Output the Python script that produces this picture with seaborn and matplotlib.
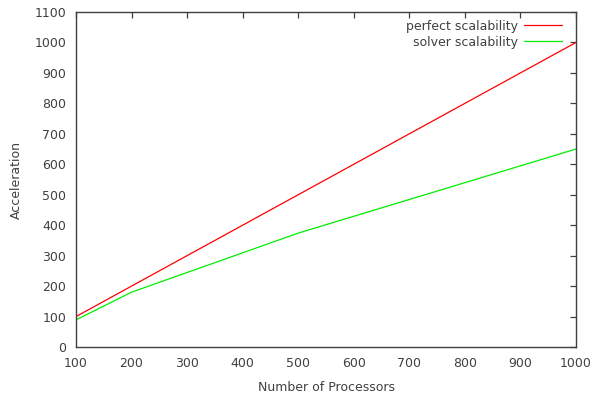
import pandas as pd
import matplotlib
matplotlib.use("Agg")
import matplotlib.pyplot as plt
import seaborn as sns

# processors vs acceleration
processors = [100, 200, 500, 1000]
perfect = [100, 200, 500, 1000]
solver = [89, 180, 374, 650]

x_ticks = list(range(100, 1001, 100))
y_ticks = list(range(0, 1101, 100))


def main():
    sns.set_style("white")
    plt.rcParams["font.family"] = ["DejaVu Sans"]
    grey = "#404040"

    df = pd.DataFrame({
        "Number of Processors": processors * 2,
        "Acceleration": perfect + solver,
        "series": ["perfect scalability"] * len(processors) + ["solver scalability"] * len(processors),
    })

    fig = plt.figure(figsize=(5.93, 3.96), dpi=100)
    ax = fig.add_axes([76 / 593, 49 / 396, 500 / 593, 335 / 396])
    sns.lineplot(data=df, x="Number of Processors", y="Acceleration", hue="series",
                 palette={"perfect scalability": "#ff0000", "solver scalability": "#00ee00"},
                 linewidth=0.9, ax=ax)

    ax.set_xlim(100, 1000)
    ax.set_ylim(0, 1100)
    ax.set_xticks(x_ticks)
    ax.set_yticks(y_ticks)
    ax.tick_params(direction="in", length=4.5, width=0.9, top=True, right=True,
                   labelsize=9, colors=grey, labelcolor=grey, pad=7)
    for s in ax.spines.values():
        s.set_color(grey)
        s.set_linewidth(1.0)
    ax.set_xlabel("Number of Processors", fontsize=9, color=grey, labelpad=8)
    ax.set_ylabel("Acceleration", fontsize=9, color=grey, labelpad=8)

    leg = ax.legend(loc="upper right", bbox_to_anchor=(0.986, 1.0), frameon=False,
                    markerfirst=False, fontsize=9, handlelength=3.0, handletextpad=0.5,
                    borderaxespad=0.2, labelspacing=0.25)
    for t in leg.get_texts():
        t.set_color(grey)

    fig.savefig("out.png", dpi=100)


if __name__ == '__main__':
    main()
